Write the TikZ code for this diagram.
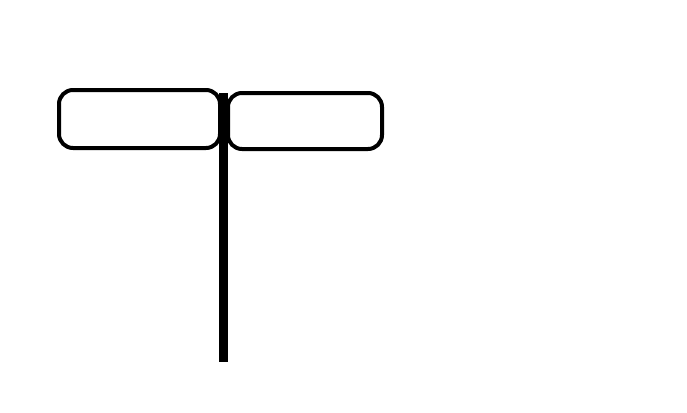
\documentclass[tikz,border=0pt]{standalone}
\usetikzlibrary{positioning}
\begin{document}
\begin{tikzpicture}[
x=1pt, y=-1pt,
line width=4pt,
]
% \draw [help lines] (0,0) grid (687,412);

\tikzset{
	sign/.style={draw, rounded corners=14pt, inner sep=0pt},
	pole/.style={line width=9pt, line cap=butt},
}

\useasboundingbox (0,0) rectangle (687,412);

\node[sign, minimum width=161pt, minimum height=58pt] (left) at (139.5,119) {};
\node[sign, minimum width=154pt, minimum height=56pt] (right) at (305,121) {};

\coordinate (top) at (223.5,93);
\coordinate (foot) at (223.5,362);
\draw[pole] (top) -- (foot);

\end{tikzpicture}
\end{document}
